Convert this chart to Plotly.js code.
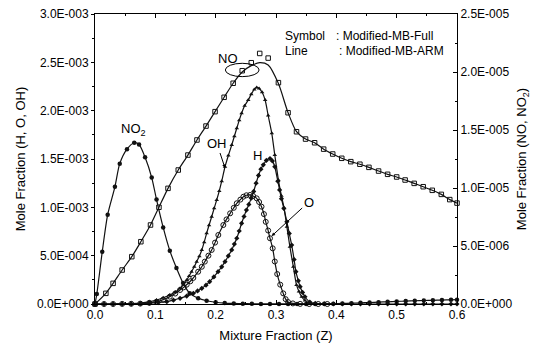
<!DOCTYPE html>
<html><head><meta charset="utf-8">
<script src="https://cdn.plot.ly/plotly-3.0.1.min.js"></script>
<style>html,body{margin:0;padding:0;background:#fff}</style>
</head><body><div id="chart" style="width:535px;height:347px"></div>
<script>
// ---- data (Mixture fraction Z vs mole fractions) ----
const zNO2 = [0,0.003,0.012,0.021,0.033,0.041,0.053,0.065,0.073,0.083,0.094,0.102,0.113,0.124,0.135,0.146,0.157,0.171,0.185,0.2,0.215,0.23,0.245,0.26,0.275,0.29,0.305,0.32,0.335,0.35,0.365,0.38,0.395,0.41,0.425,0.44,0.455,0.47,0.485,0.5,0.515,0.53,0.545,0.56,0.575,0.59,0.6];
const no2 = [0,0.086e-5,0.45e-5,0.77e-5,1.01e-5,1.21e-5,1.335e-5,1.39e-5,1.375e-5,1.265e-5,1.09e-5,0.9e-5,0.66e-5,0.46e-5,0.31e-5,0.18e-5,0.092e-5,0.049e-5,0.028e-5,0.015e-5,0.008e-5,0.005e-5,0.003e-5,0.002e-5,0.001e-5,0.001e-5,0.001e-5,0.001e-5,0.001e-5,0.001e-5,0.001e-5,0.002e-5,0.003e-5,0.005e-5,0.007e-5,0.01e-5,0.013e-5,0.016e-5,0.019e-5,0.022e-5,0.025e-5,0.028e-5,0.03e-5,0.032e-5,0.034e-5,0.036e-5,0.037e-5];

const zNO = [0,0.018,0.03,0.045,0.061,0.076,0.092,0.106,0.121,0.138,0.154,0.169,0.184,0.199,0.214,0.229,0.244,0.259,0.273,0.287,0.304,0.32,0.334,0.349,0.364,0.379,0.394,0.409,0.424,0.439,0.454,0.47,0.485,0.5,0.514,0.529,0.544,0.559,0.574,0.588,0.6];
const noLine = [0,0.092e-5,0.178e-5,0.293e-5,0.408e-5,0.537e-5,0.681e-5,0.834e-5,0.997e-5,1.155e-5,1.284e-5,1.414e-5,1.534e-5,1.658e-5,1.782e-5,1.903e-5,2.0e-5,2.055e-5,2.08e-5,2.06e-5,1.9e-5,1.649e-5,1.485e-5,1.422e-5,1.39e-5,1.335e-5,1.293e-5,1.256e-5,1.227e-5,1.205e-5,1.178e-5,1.146e-5,1.118e-5,1.095e-5,1.069e-5,1.04e-5,1.011e-5,0.98e-5,0.945e-5,0.9e-5,0.87e-5];
const noSym = [0,0.092e-5,0.178e-5,0.293e-5,0.408e-5,0.537e-5,0.681e-5,0.834e-5,0.997e-5,1.155e-5,1.284e-5,1.414e-5,1.534e-5,1.658e-5,1.782e-5,1.903e-5,2.011e-5,2.08e-5,2.16e-5,2.12e-5,1.908e-5,1.649e-5,1.485e-5,1.422e-5,1.39e-5,1.335e-5,1.293e-5,1.256e-5,1.227e-5,1.205e-5,1.178e-5,1.146e-5,1.118e-5,1.095e-5,1.069e-5,1.04e-5,1.011e-5,0.98e-5,0.945e-5,0.9e-5,0.87e-5];

const zOH = [0,0.015,0.03,0.045,0.06,0.075,0.09,0.102,0.113,0.124,0.133,0.141,0.147,0.152,0.156,0.16,0.1645,0.1685,0.173,0.177,0.181,0.185,0.189,0.1934,0.1975,0.2017,0.206,0.21,0.2155,0.221,0.2266,0.231,0.235,0.239,0.243,0.248,0.254,0.259,0.264,0.268,0.272,0.277,0.282,0.287,0.293,0.298,0.304,0.309,0.3135,0.318,0.323,0.3287,0.334,0.338,0.3426,0.348,0.355,0.365,0.38,0.395];
const oh = [0,0,0,0.002e-3,0.005e-3,0.01e-3,0.022e-3,0.041e-3,0.064e-3,0.093e-3,0.125e-3,0.162e-3,0.2e-3,0.248e-3,0.29e-3,0.334e-3,0.385e-3,0.438e-3,0.495e-3,0.559e-3,0.64e-3,0.731e-3,0.815e-3,0.903e-3,0.99e-3,1.076e-3,1.17e-3,1.27e-3,1.42e-3,1.535e-3,1.645e-3,1.735e-3,1.818e-3,1.9e-3,1.973e-3,2.05e-3,2.11e-3,2.17e-3,2.22e-3,2.24e-3,2.23e-3,2.19e-3,2.11e-3,1.95e-3,1.766e-3,1.541e-3,1.283e-3,1.12e-3,0.99e-3,0.8e-3,0.593e-3,0.386e-3,0.197e-3,0.13e-3,0.075e-3,0.035e-3,0.012e-3,0.004e-3,0.001e-3,0];

const zH = [0,0.015,0.03,0.045,0.06,0.075,0.09,0.105,0.119,0.13,0.141,0.152,0.163,0.17,0.177,0.184,0.19,0.197,0.204,0.21,0.2155,0.221,0.2266,0.231,0.235,0.239,0.243,0.247,0.251,0.255,0.259,0.263,0.267,0.271,0.275,0.279,0.284,0.29,0.294,0.298,0.303,0.306,0.309,0.313,0.318,0.322,0.326,0.33,0.333,0.337,0.34,0.344,0.348,0.356,0.365,0.38,0.395,0.41,0.425,0.44,0.455,0.47,0.485,0.5,0.515,0.53,0.545,0.56,0.575,0.59,0.6];
const h = [0,0,0,0,0.001e-3,0.003e-3,0.008e-3,0.015e-3,0.024e-3,0.04e-3,0.059e-3,0.082e-3,0.11e-3,0.135e-3,0.162e-3,0.195e-3,0.231e-3,0.28e-3,0.334e-3,0.385e-3,0.438e-3,0.497e-3,0.559e-3,0.62e-3,0.68e-3,0.755e-3,0.835e-3,0.905e-3,0.972e-3,1.03e-3,1.095e-3,1.165e-3,1.25e-3,1.33e-3,1.395e-3,1.44e-3,1.485e-3,1.505e-3,1.48e-3,1.42e-3,1.27e-3,1.18e-3,1.09e-3,0.99e-3,0.851e-3,0.73e-3,0.61e-3,0.46e-3,0.334e-3,0.24e-3,0.179e-3,0.12e-3,0.075e-3,0.02e-3,0.006e-3,0.001e-3,0,0,0,0,0,0,0,0,0,0,0,0,0,0,0];

const zO = [0,0.015,0.03,0.045,0.06,0.075,0.09,0.102,0.113,0.124,0.133,0.141,0.147,0.152,0.158,0.163,0.171,0.177,0.182,0.188,0.1934,0.199,0.2044,0.2127,0.218,0.224,0.23,0.235,0.241,0.246,0.251,0.257,0.262,0.268,0.272,0.276,0.28,0.283,0.287,0.29,0.2945,0.298,0.302,0.307,0.312,0.316,0.32,0.328,0.34,0.355,0.37,0.385];
const o = [0,0,0,0.001e-3,0.002e-3,0.004e-3,0.012e-3,0.024e-3,0.045e-3,0.076e-3,0.108e-3,0.145e-3,0.172e-3,0.2e-3,0.235e-3,0.27e-3,0.334e-3,0.385e-3,0.438e-3,0.5e-3,0.559e-3,0.635e-3,0.714e-3,0.817e-3,0.875e-3,0.938e-3,0.995e-3,1.042e-3,1.08e-3,1.11e-3,1.125e-3,1.128e-3,1.118e-3,1.093e-3,1.055e-3,1.007e-3,0.93e-3,0.85e-3,0.76e-3,0.68e-3,0.576e-3,0.44e-3,0.31e-3,0.2e-3,0.11e-3,0.05e-3,0.02e-3,0.006e-3,0.001e-3,0,0,0];

const xTicks = [0,0.1,0.2,0.3,0.4,0.5,0.6];
const yLeftVals = [0,5e-4,1e-3,1.5e-3,2e-3,2.5e-3,3e-3];
const yLeftText = ['0.0E+000','5.0E-004','1.0E-003','1.5E-003','2.0E-003','2.5E-003','3.0E-003'];
const yRightVals = [0,5e-6,1e-5,1.5e-5,2e-5,2.5e-5];
const yRightText = ['0.0E+000','5.0E-006','1.0E-005','1.5E-005','2.0E-005','2.5E-005'];

// ---- traces ----
const FONT = 'Arial, "Liberation Sans", sans-serif';
const LC = '#111';
const lw = 1.2;
function lineTrace(x, y, yaxis) {
  return {x, y, yaxis, type:'scatter', mode:'lines', line:{color:LC, width:lw, shape:'spline', smoothing:0.7}, hoverinfo:'skip', showlegend:false};
}
function symTrace(x, y, yaxis, symbol, size) {
  const open = symbol.indexOf('open') >= 0;
  return {x, y, yaxis, type:'scatter', mode:'markers',
    marker:{symbol, size, color:LC, line:{color:LC, width: open ? 1 : 0}}, hoverinfo:'skip', showlegend:false, cliponaxis:false};
}
const traces = [
  lineTrace(zNO2, no2, 'y2'), symTrace(zNO2, no2, 'y2', 'circle', 4.5),
  lineTrace(zNO, noLine, 'y2'), symTrace(zNO, noSym, 'y2', 'square-open', 4.5),
  lineTrace(zOH, oh, 'y'), symTrace(zOH, oh, 'y', 'triangle-up', 4),
  lineTrace(zH, h, 'y'), symTrace(zH, h, 'y', 'diamond', 4),
  lineTrace(zO, o, 'y'), symTrace(zO, o, 'y', 'circle-open', 5)
];

const tickFont = {family:FONT, size:12, color:'#000'};
const titleFont = {family:FONT, size:13, color:'#000'};
const labFont = {family:FONT, size:13, color:'#000'};
const legFont = {family:FONT, size:12, color:'#000'};
const layout = {
  width:535, height:347,
  margin:{l:95, r:78, t:14, b:43, pad:0},
  paper_bgcolor:'#fff', plot_bgcolor:'#fff',
  font:{family:FONT, size:12, color:'#000'},
  showlegend:false,
  xaxis:{range:[0,0.6], tickvals:xTicks, tickformat:'.1f', showgrid:false, zeroline:false,
    showline:true, linecolor:'#000', linewidth:1, mirror:'ticks', ticks:'inside', ticklen:4, tickcolor:'#000',
    minor:{dtick:0.05, tick0:0, ticks:'inside', ticklen:2, tickcolor:'#000'},
    tickfont:tickFont, title:{text:'Mixture Fraction (Z)', font:titleFont, standoff:9}},
  yaxis:{range:[0,3e-3], tickmode:'array', tickvals:yLeftVals, ticktext:yLeftText, showgrid:false, zeroline:false,
    showline:true, linecolor:'#000', linewidth:1, ticks:'outside', ticklen:3, tickcolor:'#000',
    minor:{tickmode:'linear', dtick:2.5e-4, tick0:0, ticks:'outside', ticklen:2, tickcolor:'#000'},
    tickfont:tickFont, title:{text:'Mole Fraction (H, O, OH)', font:titleFont, standoff:8}},
  yaxis2:{range:[0,2.5e-5], overlaying:'y', side:'right', tickmode:'array', tickvals:yRightVals, ticktext:yRightText,
    showgrid:false, zeroline:false, showline:true, linecolor:'#000', linewidth:1, ticks:'inside', ticklen:4, tickcolor:'#000',
    minor:{tickmode:'linear', dtick:2.5e-6, tick0:0, ticks:'inside', ticklen:2, tickcolor:'#000'},
    tickfont:tickFont, title:{text:'Mole Fraction (NO, NO<sub>2</sub>)', font:titleFont, standoff:5}},
  shapes:[
    {type:'circle', xref:'x', yref:'y2', x0:0.216, x1:0.272, y0:1.96e-5, y1:2.075e-5, line:{color:'#000', width:1}}
  ],
  annotations:[
    {text:'NO<sub>2</sub>', xref:'x', yref:'y', x:0.063, y:1.81e-3, showarrow:false, font:labFont},
    {text:'NO', xref:'x', yref:'y', x:0.2205, y:2.535e-3, showarrow:false, font:labFont},
    {text:'OH', xref:'x', yref:'y', x:0.2155, y:1.407e-3, ax:-8, ay:-24, showarrow:true, arrowhead:2, arrowsize:0.7, arrowwidth:1, arrowcolor:'#000', standoff:0, font:labFont},
    {text:'H', xref:'x', yref:'y', x:0.270, y:1.541e-3, showarrow:false, font:labFont},
    {text:'O', xref:'x', yref:'y', x:0.2928, y:0.703e-3, ax:37, ay:-34, showarrow:true, arrowhead:2, arrowsize:0.7, arrowwidth:1, arrowcolor:'#000', standoff:0, font:labFont},
    {text:'Symbol', xref:'paper', yref:'paper', x:0.519, y:0.924, xanchor:'left', yanchor:'middle', showarrow:false, font:legFont},
    {text:': Modified-MB-Full', xref:'paper', yref:'paper', x:0.66, y:0.924, xanchor:'left', yanchor:'middle', showarrow:false, font:legFont},
    {text:'Line', xref:'paper', yref:'paper', x:0.519, y:0.872, xanchor:'left', yanchor:'middle', showarrow:false, font:legFont},
    {text:': Modified-MB-ARM', xref:'paper', yref:'paper', x:0.668, y:0.872, xanchor:'left', yanchor:'middle', showarrow:false, font:legFont}
  ]
};
Plotly.newPlot('chart', traces, layout, {staticPlot:true, displayModeBar:false});
</script></body></html>
